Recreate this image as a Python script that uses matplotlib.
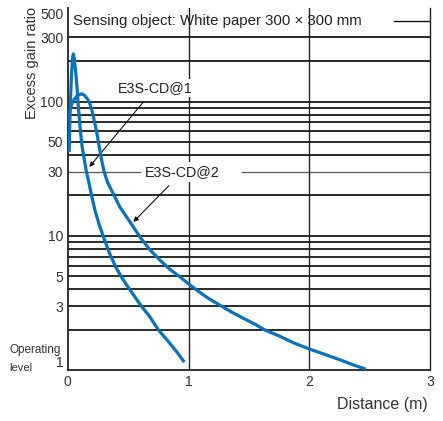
import matplotlib
matplotlib.use("Agg")
import matplotlib.pyplot as plt

plt.rcParams['font.family'] = ['Liberation Sans', 'DejaVu Sans']

# ---- data ----
cd1_dist = [0.012, 0.02, 0.03, 0.04, 0.047, 0.055, 0.065, 0.075, 0.088, 0.102, 0.118,
            0.135, 0.152, 0.175, 0.20, 0.23, 0.26, 0.30, 0.35, 0.40, 0.46, 0.53,
            0.61, 0.68, 0.75, 0.83, 0.90, 0.965]
cd1_gain = [42, 85, 150, 210, 226, 205, 170, 135, 92, 65, 47,
            38, 31, 25, 19.5, 15, 12.2, 9.6, 7.3, 5.8, 4.7, 3.8,
            3.0, 2.5, 2.0, 1.65, 1.38, 1.15]

cd2_dist = [0.005, 0.013, 0.025, 0.036, 0.055, 0.074, 0.095, 0.116, 0.14, 0.165, 0.184,
            0.205, 0.226, 0.245, 0.261, 0.28, 0.30, 0.33, 0.377, 0.43, 0.488, 0.54,
            0.598, 0.68, 0.763, 0.85, 0.929, 1.0, 1.067, 1.16, 1.26, 1.36, 1.45,
            1.55, 1.63, 1.75, 1.87, 2.0, 2.12, 2.25, 2.36, 2.465]
cd2_gain = [70, 81, 90, 97, 104, 109, 112.5, 114, 111, 104, 96,
            83, 68, 56, 46, 37, 30.5, 25, 20.6, 16.5, 13.8, 11.8,
            9.8, 7.9, 6.6, 5.6, 4.96, 4.4, 3.95, 3.45, 3.05, 2.7, 2.45,
            2.2, 2.0, 1.8, 1.6, 1.44, 1.32, 1.2, 1.1, 1.02]

y_ticks = [1, 3, 5, 10, 30, 50, 100, 300, 500]
y_tick_labels = ['1', '3', '5', '10', '30', '50', '100', '300', '500']
x_ticks = [0, 1, 2, 3]
x_tick_labels = ['0', '1', '2', '3']
h_grid = [2, 3, 4, 5, 6, 7, 8, 9, 10, 20, 40, 50, 60, 70, 80, 90, 100, 200, 300]
v_grid = [1, 2]

labels = ['E3S-CD@1', 'E3S-CD@2']
note = 'Sensing object: White paper 300 \u00d7 300 mm'

blue = '#0a72ba'

fig = plt.figure(figsize=(4.43, 4.21), dpi=100)
ax = fig.add_axes([0.1528, 0.1204, 0.8185, 0.8616])
ax.set_yscale('log')
ax.set_xlim(0, 3)
ax.set_ylim(1, 500)

for g in h_grid:
    ax.axhline(g, color='#111111', lw=1.25, zorder=1)
# partial line behind the note
ax.axhline(400, xmin=0.9, xmax=1, color='#111111', lw=1.0, zorder=1)
# thin 30 line, broken by the label
ax.axhline(30, xmin=0, xmax=0.199, color='#555555', lw=0.9, zorder=1)
ax.axhline(30, xmin=0.48, xmax=1, color='#555555', lw=0.9, zorder=1)
for g in v_grid:
    ax.axvline(g, color='#222222', lw=1.0, zorder=2)

ax.plot(cd1_dist, cd1_gain, color=blue, lw=2.3, zorder=5, solid_capstyle='butt')
ax.plot(cd2_dist, cd2_gain, color=blue, lw=2.3, zorder=5, solid_capstyle='butt')

ax.text(0.045, 400, note, ha='left', va='center', fontsize=10.8, color='#222222', zorder=3)

ax.annotate(labels[0], xy=(0.179, 32.6), xytext=(0.722, 126),
            ha='center', va='center', fontsize=10.3, color='#222222', zorder=4,
            bbox=dict(boxstyle='square,pad=0.15', fc='white', ec='none'),
            arrowprops=dict(arrowstyle='-|>', color='#111111', lw=0.8,
                            mutation_scale=7, shrinkA=4, shrinkB=0))
ax.annotate(labels[1], xy=(0.543, 12.7), xytext=(0.95, 30),
            ha='center', va='center', fontsize=10.3, color='#222222', zorder=4,
            bbox=dict(boxstyle='square,pad=0.2', fc='white', ec='none'),
            arrowprops=dict(arrowstyle='-|>', color='#111111', lw=0.8,
                            mutation_scale=7, shrinkA=4, shrinkB=0))

ax.set_yticks(y_ticks)
ax.set_yticklabels(y_tick_labels)
ax.yaxis.set_minor_locator(matplotlib.ticker.NullLocator())
ax.set_xticks(x_ticks)
ax.set_xticklabels(x_tick_labels)
ax.tick_params(axis='both', length=0, labelsize=10, colors='#333333')
ax.tick_params(axis='y', pad=3.2)
ax.tick_params(axis='x', pad=3.6)
for lab in ax.get_yticklabels():
    if lab.get_text() == '500':
        lab.set_verticalalignment('top')
    if lab.get_text() == '1':
        lab.set_verticalalignment('bottom')

ax.spines['top'].set_visible(False)
for s in ['left', 'bottom']:
    ax.spines[s].set_linewidth(1.3)
    ax.spines[s].set_color('#222222')
ax.spines['right'].set_linewidth(1.0)
ax.spines['right'].set_color('#222222')

fig.text(32 / 443, 1 - 63 / 421, 'Excess gain ratio', rotation=90, ha='center',
         va='center', fontsize=10.5, color='#333333')
fig.text(428 / 443, 1 - 405 / 421, 'Distance (m)', ha='right', va='center',
         fontsize=11.5, color='#333333')
fig.text(10 / 443, 1 - 350 / 421, 'Operating', ha='left', va='center',
         fontsize=8.5, color='#333333')
fig.text(9 / 443, 1 - 368 / 421, 'level', ha='left', va='center',
         fontsize=8.0, color='#333333')

fig.savefig('out.png', dpi=100)
